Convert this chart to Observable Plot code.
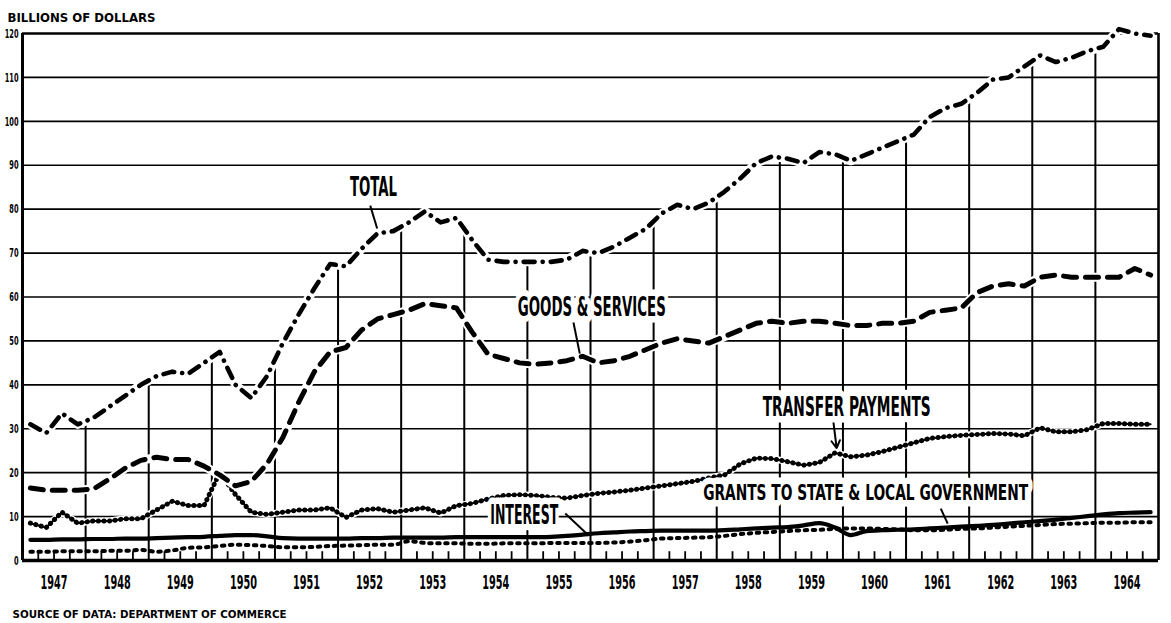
<!DOCTYPE html>
<html>
<head>
<meta charset="utf-8">
<script src="https://cdn.jsdelivr.net/npm/d3@7"></script>
<script src="https://cdn.jsdelivr.net/npm/@observablehq/plot@0.6"></script>
<style>
  body { margin: 0; background: #fff; }
</style>
</head>
<body>
<div id="chart"></div>
<script>
// ---------- data (billions of dollars, quarterly, 1947 Q1 – 1964 Q4) ----------
const years = [1947,1948,1949,1950,1951,1952,1953,1954,1955,1956,1957,1958,1959,1960,1961,1962,1963,1964];
const yTicks = [0,10,20,30,40,50,60,70,80,90,100,110,120];

const totalSeries = [
  31, 29, 33.5, 31,
  32.5, 35, 37.5, 40,
  42, 43, 42.5, 45,
  47.5, 40, 37, 42,
  49.5, 56, 62, 67.5,
  67, 71, 74.5, 75,
  77, 79.5, 77, 78,
  73, 68.5, 68, 68,
  68, 68, 68.5, 70.5,
  70, 71.5, 73.5, 75.5,
  79, 81, 80, 81.5,
  84, 87, 90.5, 92,
  91.5, 90.5, 93, 92.5,
  91, 92.5, 94, 95.5,
  97, 101, 103, 104,
  106.5, 109.5, 110, 112.5,
  115, 113.5, 114.5, 116,
  117, 121, 120, 119.5
];
const goodsServices = [
  16.5, 16, 16, 16,
  16.3, 18.5, 21, 22.8,
  23.5, 23, 23, 21.5,
  19.5, 17, 18, 22,
  28, 36, 43, 47.5,
  48.5, 52.5, 55, 56,
  57, 58.5, 58, 57.5,
  52, 47, 46, 45,
  44.7, 45, 45.5, 46.5,
  45, 45.5, 46.5, 48,
  49.5, 50.5, 50, 49.5,
  51, 52.5, 54, 54.5,
  54, 54.5, 54.5, 54,
  53.5, 53.5, 54, 54,
  54.5, 56.5, 57, 57.5,
  61, 62.5, 63, 62.5,
  64.5, 65, 64.5, 64.5,
  64.5, 64.5, 66.5, 65
];
const transferPayments = [
  8.5, 7.5, 11, 8.5,
  9, 9, 9.5, 9.5,
  11.5, 13.5, 12.5, 12.5,
  20, 15, 11, 10.5,
  11, 11.5, 11.5, 12,
  9.8, 11.5, 11.8, 11,
  11.5, 12, 10.8, 12.5,
  13, 14, 14.8, 15,
  14.8, 14.4, 14.2, 14.8,
  15.3, 15.6, 16, 16.5,
  17, 17.5, 18, 18.8,
  19.5, 22, 23.3, 23.2,
  22.5, 21.7, 22.3, 24.5,
  23.6, 24, 24.8, 25.8,
  26.8, 27.8, 28.2, 28.5,
  28.7, 28.9, 28.8, 28.4,
  30.2, 29.3, 29.3, 29.8,
  31.2, 31.2, 31, 31
];
const interest = [
  4.7, 4.7, 4.8, 4.8,
  4.9, 4.9, 5.0, 5.0,
  5.1, 5.2, 5.3, 5.4,
  5.6, 5.8, 5.8, 5.5,
  5.1, 5.0, 5.0, 5.0,
  5.0, 5.1, 5.1, 5.2,
  5.2, 5.2, 5.2, 5.3,
  5.3, 5.3, 5.3, 5.3,
  5.3, 5.4, 5.6, 5.9,
  6.2, 6.4, 6.6, 6.7,
  6.8, 6.8, 6.8, 6.8,
  6.9, 7.1, 7.3, 7.5,
  7.6, 8.0, 8.5, 7.5,
  5.8, 6.7, 6.9, 7.0,
  7.1, 7.3, 7.5, 7.7,
  7.9, 8.1, 8.4, 8.7,
  9.0, 9.3, 9.7, 10.1,
  10.5, 10.8, 10.9, 11.0
];
const grants = [
  2.0, 2.0, 2.1, 2.1,
  2.1, 2.2, 2.2, 2.4,
  2.0, 2.3, 2.9, 3.0,
  3.3, 3.6, 3.5, 3.3,
  3.0, 3.0, 3.1, 3.3,
  3.4, 3.5, 3.6, 3.6,
  4.4, 4.0, 3.9, 3.9,
  3.8, 3.8, 3.9, 3.9,
  3.9, 4.0, 4.0, 4.0,
  4.0, 4.1, 4.3, 4.6,
  5.0, 5.1, 5.2, 5.3,
  5.6, 6.0, 6.3, 6.5,
  6.7, 6.9, 7.0, 7.2,
  7.3, 7.3, 7.2, 7.1,
  6.9, 6.9, 7.0, 7.2,
  7.3, 7.5, 7.7, 7.9,
  8.1, 8.3, 8.4, 8.5,
  8.6, 8.6, 8.7, 8.7
];

// annotation labels (text, anchor in data units, font size, width) and pointer lines
const labels = [
  {text: "TOTAL", t: 1952.56, v: 84.9, size: 26, w: 47},
  {text: "GOODS & SERVICES", t: 1956.02, v: 57.6, size: 26, w: 148},
  {text: "TRANSFER PAYMENTS", t: 1960.06, v: 34.8, size: 26, w: 168},
  {text: "GRANTS TO STATE & LOCAL GOVERNMENT", t: 1960.36, v: 15.3, size: 22, w: 325},
  {text: "INTEREST", t: 1954.95, v: 10.2, size: 26, w: 68}
];
const pointers = [
  {t1: 1952.51, v1: 80.8, t2: 1952.62, v2: 75.6},
  {t1: 1955.73, v1: 54.2, t2: 1955.83, v2: 47.1},
  {t1: 1961.55, v1: 11.8, t2: 1961.66, v2: 8.4},
  {t1: 1955.60, v1: 10.7, t2: 1955.97, v2: 5.7}
];
const arrowPointers = [
  {t1: 1959.85, v1: 31.4, t2: 1959.90, v2: 25.6}
];

// ---------- derived tables ----------
const quarterTimes = years.flatMap(y => [0, 1, 2, 3].map(q => y + (q + 0.5) / 4));
const rows = vals => vals.map((v, i) => ({t: quarterTimes[i], v}));
const yearBounds = years.slice(1).map((y, i) => ({
  t: y,
  top: (totalSeries[4 * (i + 1) - 1] + totalSeries[4 * (i + 1)]) / 2
}));
const quarterBounds = years.flatMap(y => [0.25, 0.5, 0.75].map(f => y + f));
const endYear = years[years.length - 1] + 1;
const startYear = years[0];

const condensed = "'Liberation Sans Narrow', 'DejaVu Sans Condensed', 'Liberation Sans', sans-serif";
const heavy = "'DejaVu Sans', 'Liberation Sans', sans-serif";

const chart = Plot.plot({
  width: 1171,
  height: 623,
  marginTop: 33,
  marginBottom: 63,
  marginLeft: 22,
  marginRight: 13,
  style: {background: "#fff", color: "#000"},
  x: {domain: [startYear, endYear], axis: null},
  y: {domain: [0, 120], axis: null},
  marks: [
    // horizontal grid
    Plot.ruleY(yTicks.filter(d => d > 0 && d < 120), {stroke: "#000", strokeWidth: 1.7}),
    // year verticals running up to the TOTAL curve
    Plot.ruleX(yearBounds, {x: "t", y1: 0, y2: "top", stroke: "#000", strokeWidth: 2}),
    // quarter ticks
    Plot.ruleX(quarterBounds, {x: d => d, y1: 0, y2: 2, stroke: "#000", strokeWidth: 1.8}),
    // frame
    Plot.ruleY([120], {x1: startYear, x2: endYear, stroke: "#000", strokeWidth: 2.4}),
    Plot.ruleX([endYear], {y1: 0, y2: 120, stroke: "#000", strokeWidth: 2.6}),
    Plot.ruleX([startYear], {y1: 0, y2: 120, stroke: "#000", strokeWidth: 3}),
    Plot.ruleY([0], {x1: startYear, x2: endYear, stroke: "#000", strokeWidth: 3.5}),

    // grants to state & local government (short rounded dashes)
    Plot.line(rows(grants), {x: "t", y: "v", stroke: "#000", strokeWidth: 4, strokeDasharray: "2.5,5.5", strokeLinecap: "round", curve: "monotone-x"}),
    // interest (solid)
    Plot.line(rows(interest), {x: "t", y: "v", stroke: "#000", strokeWidth: 4.2, curve: "monotone-x"}),
    // transfer payments (beaded)
    Plot.line(rows(transferPayments), {x: "t", y: "v", stroke: "#fff", strokeWidth: 7}),
    Plot.line(rows(transferPayments), {x: "t", y: "v", stroke: "#000", strokeWidth: 2}),
    Plot.line(rows(transferPayments), {x: "t", y: "v", stroke: "#000", strokeWidth: 5, strokeDasharray: "0.1,5.5", strokeLinecap: "round"}),
    // goods & services (long dashes)
    Plot.line(rows(goodsServices), {x: "t", y: "v", stroke: "#fff", strokeWidth: 9, strokeLinecap: "round"}),
    Plot.line(rows(goodsServices), {x: "t", y: "v", stroke: "#000", strokeWidth: 5, strokeDasharray: "13,9", strokeLinecap: "round"}),
    // total (dash-dot)
    Plot.line(rows(totalSeries), {x: "t", y: "v", stroke: "#fff", strokeWidth: 9, strokeLinecap: "round"}),
    Plot.line(rows(totalSeries), {x: "t", y: "v", stroke: "#000", strokeWidth: 4.6, strokeDasharray: "11,8,0.1,8", strokeLinecap: "round"}),

    // pointers
    Plot.link(pointers, {x1: "t1", y1: "v1", x2: "t2", y2: "v2", stroke: "#000", strokeWidth: 2}),
    Plot.arrow(arrowPointers, {x1: "t1", y1: "v1", x2: "t2", y2: "v2", stroke: "#000", strokeWidth: 2, headLength: 7}),

    // annotation labels with a wide white halo acting as a label box
    Plot.text(labels, {x: "t", y: "v", text: "text", fontSize: "size", fontFamily: condensed, fontWeight: "bold",
      fill: "#000", stroke: "#fff", strokeWidth: 13, strokeLinejoin: "round", paintOrder: "stroke"}),

    // y tick labels
    Plot.text(yTicks, {x: startYear, y: d => d, text: d => String(d), textAnchor: "end", dx: -4,
      fontFamily: condensed, fontWeight: "bold", fontSize: 13, fill: "#000"}),
    // year labels
    Plot.text(years, {x: d => d + 0.5, y: 0, text: d => String(d), dy: 22,
      fontFamily: condensed, fontWeight: "bold", fontSize: 20, fill: "#000"}),
    // unit label and source
    Plot.text(["BILLIONS OF DOLLARS"], {frameAnchor: "top-left", text: d => d, textAnchor: "start", dx: -15, dy: -21,
      fontFamily: heavy, fontWeight: "bold", fontSize: 13, fill: "#000"}),
    Plot.text(["SOURCE OF DATA: DEPARTMENT OF COMMERCE"], {frameAnchor: "bottom-left", text: d => d, textAnchor: "start", dx: -10, dy: 57,
      fontFamily: heavy, fontWeight: "bold", fontSize: 10, fill: "#000"})
  ]
});

// squeeze text to the condensed widths of the original lettering
const widths = new Map(labels.map(d => [d.text, d.w]));
widths.set("BILLIONS OF DOLLARS", 148);
widths.set("SOURCE OF DATA: DEPARTMENT OF COMMERCE", 274);
d3.select(chart).selectAll("text").each(function () {
  const s = this.textContent;
  let w = widths.get(s);
  if (w == null && /^\d{4}$/.test(s)) w = 27;
  else if (w == null && /^\d{1,3}$/.test(s)) w = s.length * 4.6;
  if (w) {
    this.setAttribute("textLength", w);
    this.setAttribute("lengthAdjust", "spacingAndGlyphs");
  }
});

document.getElementById("chart").appendChild(chart);
</script>
</body>
</html>
